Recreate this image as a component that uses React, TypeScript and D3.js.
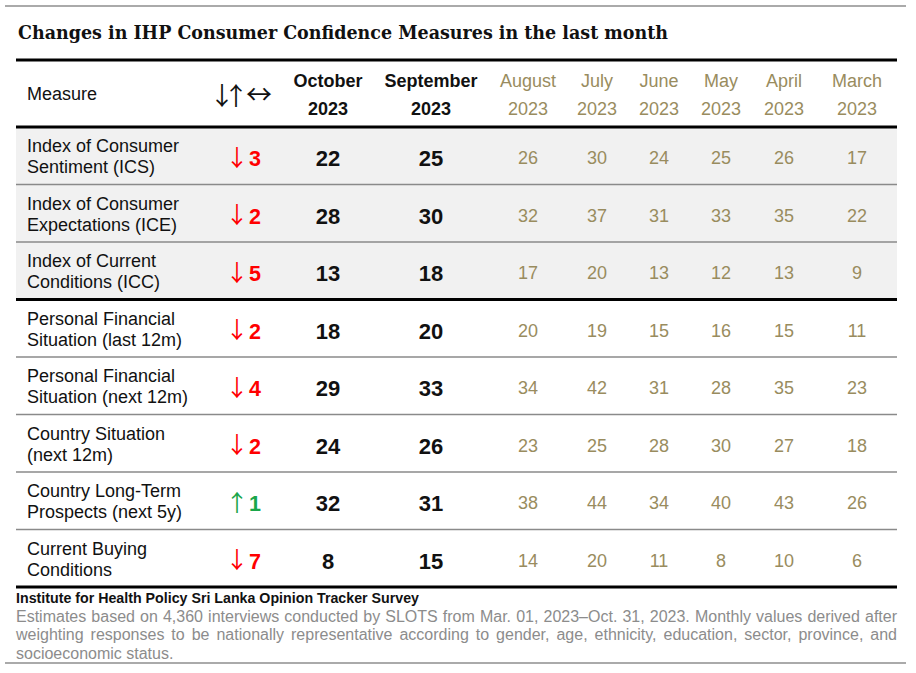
import React, { useMemo } from "react";
import * as d3 from "d3";

const TITLE = "Changes in IHP Consumer Confidence Measures in the last month";
const measureLabels: string[][] = [
  ["Index of Consumer", "Sentiment (ICS)"],
  ["Index of Consumer", "Expectations (ICE)"],
  ["Index of Current", "Conditions (ICC)"],
  ["Personal Financial", "Situation (last 12m)"],
  ["Personal Financial", "Situation (next 12m)"],
  ["Country Situation", "(next 12m)"],
  ["Country Long-Term", "Prospects (next 5y)"],
  ["Current Buying", "Conditions"],
];
const months = ["October", "September", "August", "July", "June", "May", "April", "March"];
const year = "2023";
const october = [22, 28, 13, 18, 29, 24, 32, 8];
const september = [25, 30, 18, 20, 33, 26, 31, 15];
const august = [26, 32, 17, 20, 34, 23, 38, 14];
const july = [30, 37, 20, 19, 42, 25, 44, 20];
const june = [24, 31, 13, 15, 31, 28, 34, 11];
const may = [25, 33, 12, 16, 28, 30, 40, 8];
const april = [26, 35, 13, 15, 35, 27, 43, 10];
const march = [17, 22, 9, 11, 23, 18, 26, 6];
const series = [october, september, august, july, june, may, april, march];
const headerArrowsVert = "\u2193\u2191";
const headerArrowHoriz = "\u2194";
const sourceLine = "Institute for Health Policy Sri Lanka Opinion Tracker Survey";
const noteLines = [
  "Estimates based on 4,360 interviews conducted by SLOTS from Mar. 01, 2023\u2013Oct. 31, 2023. Monthly values derived after",
  "weighting responses to be nationally representative according to gender, age, ethnicity, education, sector, province, and",
  "socioeconomic status.",
];

const W = 916, H = 673;
const X0 = 16, X1 = 897;
const SANS = "'Liberation Sans', Arial, sans-serif";
const ARROWFONT = "'Noto Sans CJK JP', 'DejaVu Sans', sans-serif";
const OLIVE = "#998c5e";
const colKeys = ["measure", "change", ...months];
const colWidths = [196, 70, 92, 114, 80, 58, 66, 58, 68, 78];
const NOTE_SIZE = 16;

export default function App() {
  const colStarts = d3.cumsum([X0, ...colWidths]);
  const colCenter = d3
    .scaleOrdinal<string, number>()
    .domain(colKeys)
    .range(colKeys.map((_, i) => colStarts[i] + colWidths[i] / 2));

  const rowIds = measureLabels.map((_, i) => String(i));
  const y = d3.scaleBand().domain(rowIds).range([127, 587]);
  const headerTop = 60, headerBottom = 127;

  const justified = useMemo(() => {
    const ctx = document.createElement("canvas").getContext("2d")!;
    ctx.font = `${NOTE_SIZE}px 'Liberation Sans'`;
    return noteLines.map((line, li) => {
      const words = line.split(" ");
      const widths = words.map((w) => ctx.measureText(w).width);
      const isLast = li === noteLines.length - 1;
      const total = d3.sum(widths);
      const gap = isLast || words.length < 2 ? ctx.measureText(" ").width : (X1 - X0 - total) / (words.length - 1);
      let x = X0;
      return words.map((w, i) => {
        const pos = x;
        x += widths[i] + gap;
        return { w, x: pos };
      });
    });
  }, []);

  const bw = y.bandwidth();
  const chX = colStarts[1];

  return (
    <svg width={W} height={H} style={{ position: "absolute", left: 0, top: 0, background: "#fff" }}>
      <line x1={5} x2={906} y1={6} y2={6} stroke="#aaaaaa" strokeWidth={2} />
      <text x={18} y={39} fontFamily="'DejaVu Serif', serif" fontWeight="bold" fontSize={18} textLength={650} lengthAdjust="spacingAndGlyphs" fill="#111">
        {TITLE}
      </text>

      {/* shaded index rows */}
      <rect x={X0} width={X1 - X0} y={y("0")!} height={y("3")! - y("0")!} fill="#f1f1f1" />

      {/* header */}
      <text x={27} y={100} fontFamily={SANS} fontSize={18} fill="#111">Measure</text>
      <text x={chX - 2.5} y={105} fontFamily={ARROWFONT} fontSize={25} letterSpacing={-11} fill="#111">
        {headerArrowsVert}
      </text>
      <text x={chX + 47} y={104} textAnchor="middle" fontFamily={ARROWFONT} fontSize={26} fill="#111">
        {headerArrowHoriz}
      </text>
      {months.map((m, i) => {
        const bold = i < 2;
        return (
          <g key={m} fontFamily={SANS} fontSize={18} textAnchor="middle" fill={bold ? "#111" : OLIVE} fontWeight={bold ? "bold" : "normal"}>
            <text x={colCenter(m)} y={86.5}>{m}</text>
            <text x={colCenter(m)} y={115}>{year}</text>
          </g>
        );
      })}

      {/* rows */}
      {measureLabels.map((lines, r) => {
        const cy = y(String(r))! + bw / 2;
        const change = october[r] - september[r];
        const up = change > 0;
        const col = up ? "#1aa64a" : "#ff0000";
        return (
          <g key={r}>
            <text x={27} fontFamily={SANS} fontSize={18} fill="#111">
              <tspan x={27} y={cy - 3.5}>{lines[0]}</tspan>
              <tspan x={27} y={cy + 17.5}>{lines[1]}</tspan>
            </text>
            <text x={chX + 25} y={cy + 10} textAnchor="middle" fontFamily={ARROWFONT} fontSize={23} fill={col}>
              {up ? "\u2191" : "\u2193"}
            </text>
            <text x={chX + 37} y={cy + 10.5} fontFamily={SANS} fontSize={21.5} fontWeight="bold" fill={col}>
              {Math.abs(change)}
            </text>
            {months.map((m, c) => {
              const bold = c < 2;
              return (
                <text
                  key={m}
                  x={colCenter(m)}
                  y={bold ? cy + 10.5 : cy + 8.5}
                  textAnchor="middle"
                  fontFamily={SANS}
                  fontSize={bold ? 22 : 18}
                  fontWeight={bold ? "bold" : "normal"}
                  fill={bold ? "#111" : OLIVE}
                >
                  {series[c][r]}
                </text>
              );
            })}
          </g>
        );
      })}

      {/* row separators */}
      {rowIds.slice(1).map((id) =>
        id === "3" ? null : (
          <line key={id} x1={X0} x2={X1} y1={y(id)!} y2={y(id)!} stroke="#8a8a8a" strokeWidth={1.5} />
        )
      )}
      {[headerTop, headerBottom, y("3")!, 587].map((yy, i) => (
        <line key={i} x1={X0} x2={X1} y1={yy} y2={yy} stroke="#000" strokeWidth={3} />
      ))}

      {/* footer */}
      <text x={X0} y={603} fontFamily={SANS} fontSize={14.5} fontWeight="bold" fill="#111" textLength={403} lengthAdjust="spacingAndGlyphs">
        {sourceLine}
      </text>
      {justified.map((words, li) => (
        <text key={li} y={621.5 + li * 18.5} fontFamily={SANS} fontSize={NOTE_SIZE} fill="#8c8c8c">
          {words.map((wd, i) => (
            <tspan key={i} x={wd.x}>{wd.w}</tspan>
          ))}
        </text>
      ))}
      <line x1={5} x2={906} y1={663} y2={663} stroke="#aaaaaa" strokeWidth={2} />
    </svg>
  );
}
